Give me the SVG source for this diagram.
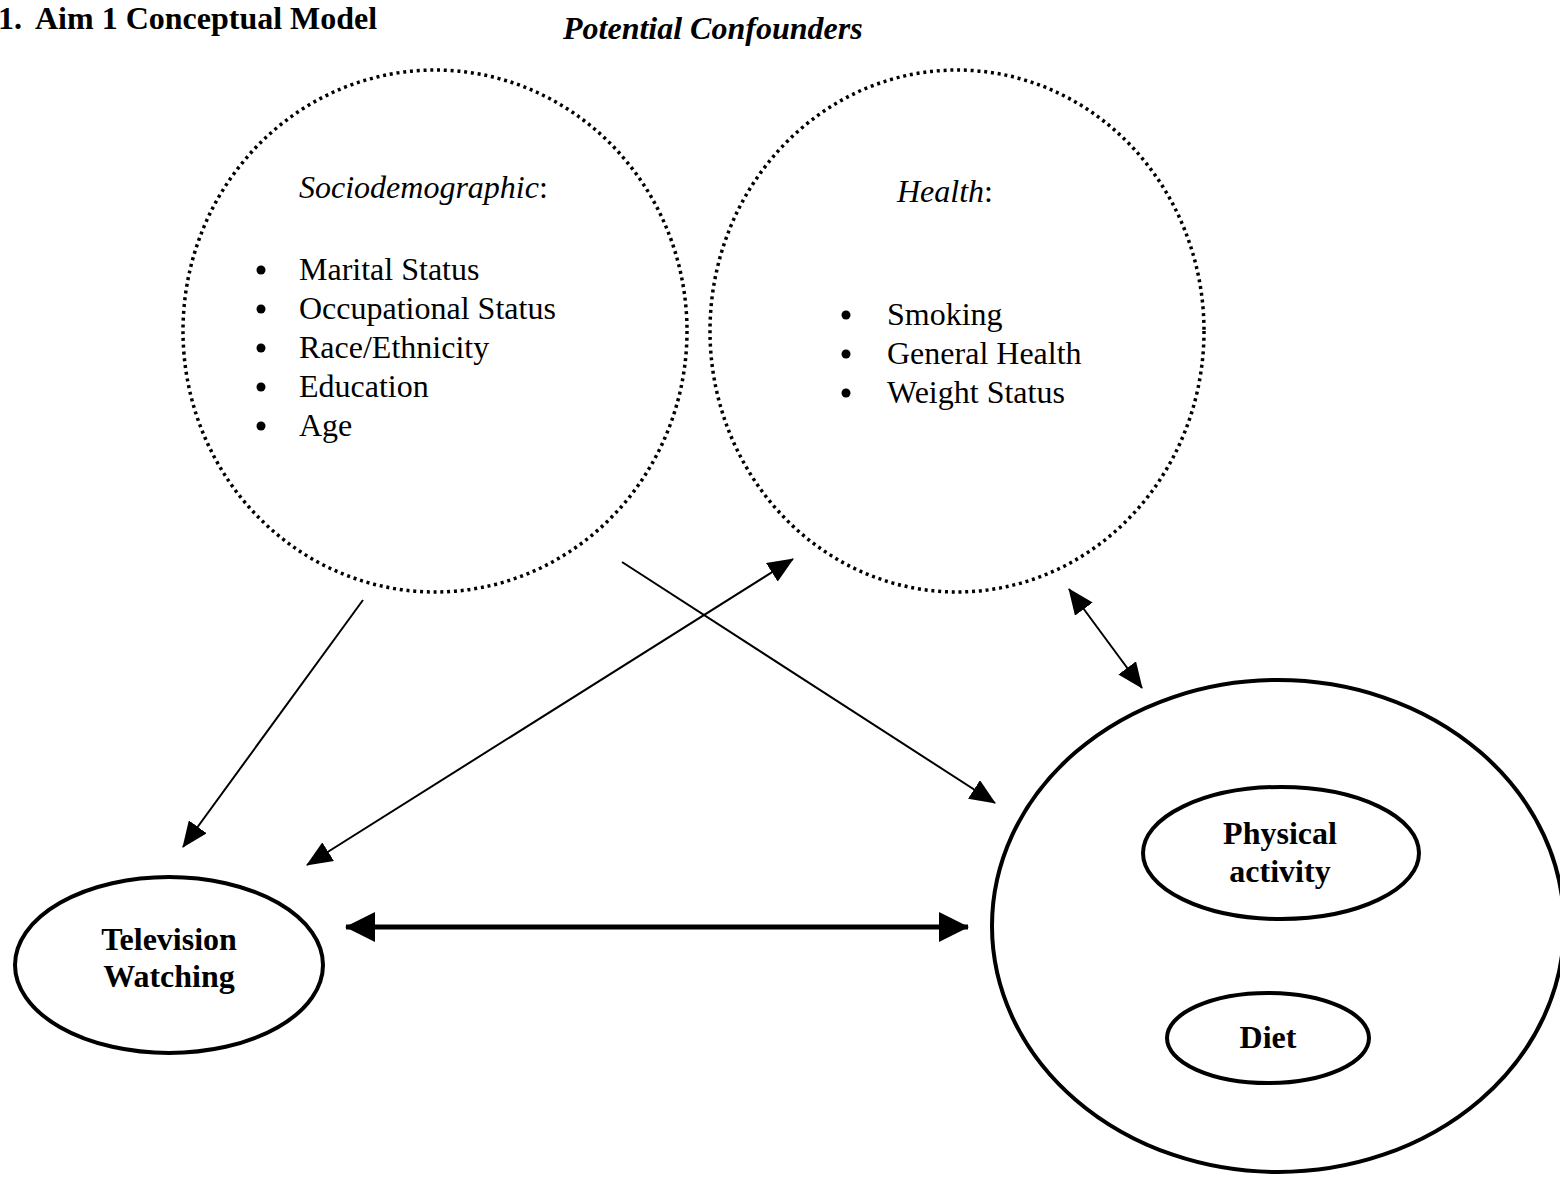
<svg xmlns="http://www.w3.org/2000/svg" width="1560" height="1182" viewBox="0 0 1560 1182">
<style>
text{font-family:"Liberation Serif","Times New Roman",serif;font-size:32px;fill:#000}
.b{font-weight:bold}
.bi{font-weight:bold;font-style:italic}
.i{font-style:italic}
.dot{fill:none;stroke:#000;stroke-width:3.5;stroke-dasharray:3 3.8}
.solid{fill:none;stroke:#000;stroke-width:4}
.thin{stroke:#000;stroke-width:2;fill:none}
.thick{stroke:#000;stroke-width:5;fill:none}
</style>
<defs>
<marker id="ah" markerUnits="userSpaceOnUse" markerWidth="26" markerHeight="22" refX="25" refY="11" orient="auto-start-reverse">
<path d="M0,0 L26,11 L0,22 z" fill="#000"/>
</marker>
<marker id="ahb" markerUnits="userSpaceOnUse" markerWidth="30" markerHeight="30" refX="29" refY="15" orient="auto-start-reverse">
<path d="M0,0 L30,15 L0,30 z" fill="#000"/>
</marker>
</defs>
<rect width="1560" height="1182" fill="#fff"/>
<text class="b" y="29"><tspan x="-2">1.</tspan><tspan x="35">Aim 1 Conceptual Model</tspan></text>
<text class="bi" x="563" y="39">Potential Confounders</text>
<g id="sociodemographic">
<ellipse class="dot" cx="435" cy="331" rx="252" ry="261"/>
<text x="299" y="198"><tspan class="i">Sociodemographic</tspan>:</text>
<circle cx="261" cy="270" r="4.5"/><text x="299" y="280">Marital Status</text>
<circle cx="261" cy="309" r="4.5"/><text x="299" y="319">Occupational Status</text>
<circle cx="261" cy="348" r="4.5"/><text x="299" y="358">Race/Ethnicity</text>
<circle cx="261" cy="387" r="4.5"/><text x="299" y="397">Education</text>
<circle cx="261" cy="426" r="4.5"/><text x="299" y="436">Age</text>
</g>
<g id="health">
<ellipse class="dot" cx="957" cy="331" rx="247" ry="261"/>
<text x="897" y="202"><tspan class="i">Health</tspan>:</text>
<circle cx="846" cy="315" r="4.5"/><text x="887" y="325">Smoking</text>
<circle cx="846" cy="354" r="4.5"/><text x="887" y="364">General Health</text>
<circle cx="846" cy="393" r="4.5"/><text x="887" y="403">Weight Status</text>
</g>
<g id="television">
<ellipse class="solid" cx="169" cy="965" rx="154" ry="88"/>
<text class="b" x="169" y="950" text-anchor="middle">Television</text>
<text class="b" x="169" y="987" text-anchor="middle">Watching</text>
</g>
<g id="outcomes">
<ellipse class="solid" cx="1278" cy="926" rx="286" ry="246"/>
</g>
<g id="physical">
<ellipse class="solid" cx="1281" cy="853" rx="138" ry="66"/>
<text class="b" x="1280" y="844" text-anchor="middle">Physical</text>
<text class="b" x="1280" y="882" text-anchor="middle">activity</text>
</g>
<g id="diet">
<ellipse class="solid" cx="1268" cy="1038" rx="101" ry="45"/>
<text class="b" x="1268" y="1048" text-anchor="middle">Diet</text>
</g>
<g id="connectors">
<line class="thin" x1="363" y1="600" x2="183" y2="847" marker-end="url(#ah)"/>
<line class="thin" x1="622" y1="562" x2="995" y2="803" marker-end="url(#ah)"/>
<line class="thin" x1="307" y1="865" x2="793" y2="559" marker-start="url(#ah)" marker-end="url(#ah)"/>
<line class="thin" x1="1069" y1="589" x2="1142" y2="688" marker-start="url(#ah)" marker-end="url(#ah)"/>
<line class="thick" x1="346" y1="927" x2="968" y2="927" marker-start="url(#ahb)" marker-end="url(#ahb)"/>
</g>
</svg>
